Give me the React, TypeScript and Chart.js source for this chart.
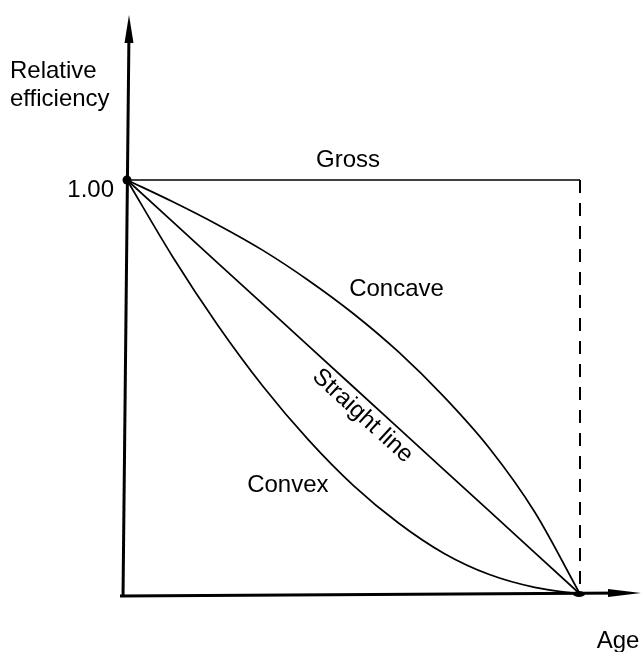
import React, { useEffect, useRef } from "react";
import { Chart, registerables } from "chart.js";

Chart.register(...registerables);

// Age as a fraction of service life
const ageFractions = [0, 0.1, 0.2, 0.3, 0.4, 0.5, 0.6, 0.7, 0.8, 0.9, 1.0];
// Relative efficiency profiles
const straightLine = [1.0, 0.9, 0.8, 0.7, 0.6, 0.5, 0.4, 0.3, 0.2, 0.1, 0.0];
const concave = [1.0, 0.948, 0.892, 0.83, 0.758, 0.677, 0.584, 0.476, 0.352, 0.198, 0.0];
const convex = [1.0, 0.816, 0.65, 0.502, 0.373, 0.262, 0.171, 0.098, 0.047, 0.016, 0.0];
const grossAges = [0, 1];
const gross = [1.0, 1.0];
const serviceEndAges = [1, 1];
const serviceEnd = [1.0, 0.0];

const yTickLabels = ["1.00"];
const yAxisTitle = ["Relative", "efficiency"];
const xAxisTitle = "Age";
const curveLabels = ["Gross", "Concave", "Straight line", "Convex"];

const toPoints = (xs: number[], ys: number[]) => xs.map((x, i) => ({ x, y: ys[i] }));

const FONT = '24px "Liberation Sans", Arial, Helvetica, sans-serif';

const annotatePlugin = {
  id: "annotate",
  afterDraw(chart: any) {
    const ctx = chart.ctx as CanvasRenderingContext2D;
    const xs = chart.scales.x;
    const ys = chart.scales.y;
    const px = (v: number) => xs.getPixelForValue(v);
    const py = (v: number) => ys.getPixelForValue(v);
    ctx.save();
    ctx.strokeStyle = "#000";
    ctx.fillStyle = "#000";

    // Y axis (thick, slightly tilted like the scan)
    ctx.lineWidth = 3;
    ctx.beginPath();
    ctx.moveTo(px(0) + 2, 30);
    ctx.lineTo(px(0) - 4, py(0) + 3);
    ctx.stroke();
    // Y arrow head
    ctx.beginPath();
    ctx.moveTo(px(0) + 2, 15);
    ctx.lineTo(px(0) + 6.5, 43);
    ctx.lineTo(px(0) - 2.5, 43);
    ctx.closePath();
    ctx.fill();

    // X axis
    ctx.beginPath();
    ctx.moveTo(px(0) - 7, py(0) + 2);
    ctx.lineTo(625, py(0) - 1);
    ctx.stroke();
    // X arrow head
    ctx.beginPath();
    ctx.moveTo(641, py(0) - 1);
    ctx.lineTo(608, py(0) - 5);
    ctx.lineTo(608, py(0) + 3);
    ctx.closePath();
    ctx.fill();

    // dots
    ctx.beginPath();
    ctx.arc(px(0), py(1), 4.5, 0, Math.PI * 2);
    ctx.fill();
    ctx.beginPath();
    ctx.ellipse(px(1) - 1, py(0), 6, 3, 0, 0, Math.PI * 2);
    ctx.fill();

    ctx.font = FONT;
    // Y axis title
    ctx.textAlign = "left";
    ctx.textBaseline = "alphabetic";
    ctx.fillText(yAxisTitle[0], 10, 78);
    ctx.fillText(yAxisTitle[1], 10, 106);
    // tick label
    ctx.textAlign = "right";
    ctx.fillText(yTickLabels[0], 114, 197);
    // X axis title
    ctx.textAlign = "center";
    ctx.fillText(xAxisTitle, 618, 648);

    // curve labels
    ctx.textAlign = "center";
    ctx.textBaseline = "middle";
    ctx.fillText(curveLabels[0], px(0.488), py(1) - 20);
    ctx.fillText(curveLabels[1], px(0.595), py(0.735));
    ctx.fillText(curveLabels[3], px(0.355), py(0.262));
    // rotated straight-line label
    const ang = Math.atan2(py(0) - py(1), px(1) - px(0));
    ctx.translate(px(0.52), py(0.43));
    ctx.rotate(ang);
    ctx.fillText(curveLabels[2], 0, 0);
    ctx.restore();
  },
};

export default function App() {
  const ref = useRef<HTMLCanvasElement | null>(null);
  useEffect(() => {
    if (!ref.current) return;
    const lineBase = {
      borderColor: "#000",
      borderWidth: 1.7,
      pointRadius: 0,
      fill: false,
      clip: false as any,
    };
    const chart = new Chart(ref.current, {
      type: "line",
      data: {
        datasets: [
          { ...lineBase, label: curveLabels[0], data: toPoints(grossAges, gross), tension: 0 },
          {
            ...lineBase,
            label: "service end",
            data: toPoints(serviceEndAges, serviceEnd),
            borderDash: [13, 10],
            borderWidth: 2,
            tension: 0,
          },
          { ...lineBase, label: curveLabels[1], data: toPoints(ageFractions, concave), cubicInterpolationMode: "monotone" },
          { ...lineBase, label: curveLabels[2], data: toPoints(ageFractions, straightLine), tension: 0 },
          { ...lineBase, label: curveLabels[3], data: toPoints(ageFractions, convex), cubicInterpolationMode: "monotone" },
        ] as any,
      },
      options: {
        responsive: false,
        animation: false,
        devicePixelRatio: 1,
        layout: { padding: { left: 127, right: 61, top: 180, bottom: 58 } },
        plugins: { legend: { display: false }, tooltip: { enabled: false } },
        scales: {
          x: { type: "linear", min: 0, max: 1, display: false },
          y: { type: "linear", min: 0, max: 1, display: false },
        },
      },
      plugins: [annotatePlugin],
    });
    return () => chart.destroy();
  }, []);
  return (
    <div style={{ position: "fixed", left: 0, top: 0, width: 641, height: 652, background: "#fff" }}>
      <canvas ref={ref} width={641} height={652} style={{ display: "block" }} />
    </div>
  );
}
